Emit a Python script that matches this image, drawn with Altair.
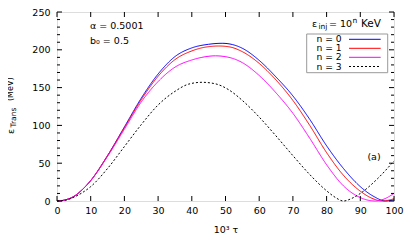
import altair as alt
import pandas as pd

# ---------------- data ----------------
series = ["n = 0", "n = 1", "n = 2", "n = 3"]
colors = ["#0000ff", "#ff0000", "#ff00ff", "#000000"]
dashes = [[1, 0], [1, 0], [1, 0], [2, 2]]

tau_n0 = [0, 2.5, 5, 7.5, 10, 15, 20, 25, 30, 35, 40, 45, 49, 52, 55, 60, 65, 70, 75, 80, 85, 90, 94, 97.5, 100]
E_n0 = [0, 1.5, 6, 15, 27, 60, 98, 136, 168, 191, 202.5, 207.3, 208.6, 207, 202, 186, 164, 139, 108, 73, 43, 19, 6, 0, 1.5]

tau_n1 = [0, 2.5, 5, 7.5, 10, 15, 20, 25, 30, 35, 40, 44, 48, 51, 55, 60, 65, 70, 75, 80, 85, 90, 93.5, 96.5, 100]
E_n1 = [0, 1.5, 6, 15, 27, 60, 97, 134, 165, 187, 198.5, 203.5, 205, 204, 197.5, 182, 160, 133, 100, 64, 34, 13, 3.5, 0, 3]

tau_n2 = [0, 2.5, 5, 7.5, 10, 15, 20, 25, 30, 35, 40, 43, 47, 51, 55, 60, 65, 70, 75, 80, 85, 90, 94.5, 97, 100]
E_n2 = [0, 1.5, 6, 15, 27, 59, 95, 131, 158, 177, 186.5, 190, 192, 190, 183, 166, 143, 116, 83, 48, 20, 4.5, 0, 2.5, 10]

tau_n3 = [0, 2.5, 5, 7.5, 10, 15, 20, 25, 30, 35, 39, 43, 47, 51, 55, 60, 65, 70, 75, 80, 82.5, 85, 87.5, 90, 95, 100]
E_n3 = [0, 1, 5, 11, 19, 43, 72, 101, 127, 145, 154.5, 157, 155, 147, 133, 111, 86, 60, 35, 13.5, 5, 0, 3.5, 10, 29, 53]

x_ticks = [0, 10, 20, 30, 40, 50, 60, 70, 80, 90, 100]
y_ticks = [0, 50, 100, 150, 200, 250]
y_minor = [10, 20, 30, 40, 60, 70, 80, 90, 110, 120, 130, 140,
           160, 170, 180, 190, 210, 220, 230, 240]

# ---------------- layout ----------------
W, H = 337, 189
FONT = "DejaVu Sans"
FS = 9.5

taus = [tau_n0, tau_n1, tau_n2, tau_n3]
Es = [E_n0, E_n1, E_n2, E_n3]
rows = []
for s, t, e in zip(series, taus, Es):
    for a, b in zip(t, e):
        rows.append({"tau": a, "E": b, "series": s})
df = pd.DataFrame(rows)

xscale = alt.Scale(domain=[0, 100], nice=False, zero=False)
yscale = alt.Scale(domain=[0, 250], nice=False, zero=False)

xaxis = alt.Axis(values=x_ticks, ticks=False, domain=False, grid=False,
                 labelOverlap=False, labelFlush=False,
                 labelFont=FONT, labelFontSize=FS, labelColor="black",
                 labelPadding=4, title="10³ τ", titleFont=FONT,
                 titleFontSize=FS, titleFontWeight="normal",
                 titleColor="black", titlePadding=10)
yaxis = alt.Axis(values=y_ticks, ticks=False, domain=False, grid=False,
                 labelOverlap=False, labelFlush=False,
                 labelFont=FONT, labelFontSize=FS, labelColor="black",
                 labelPadding=7, title=None)

lines = alt.Chart(df).mark_line(strokeWidth=1, interpolate="monotone").encode(
    x=alt.X("tau:Q", scale=xscale, axis=xaxis),
    y=alt.Y("E:Q", scale=yscale, axis=yaxis),
    color=alt.Color("series:N", scale=alt.Scale(domain=series, range=colors), legend=None),
    strokeDash=alt.StrokeDash("series:N", scale=alt.Scale(domain=series, range=dashes), legend=None),
)

xt = pd.DataFrame({"t": x_ticks})
yt = pd.DataFrame({"t": y_ticks})
ym = pd.DataFrame({"t": y_minor})

def xtick(y1, y2):
    return alt.Chart(xt).mark_rule(color="black", strokeWidth=1).encode(
        x=alt.X("t:Q", scale=xscale, axis=xaxis), y=alt.value(y1), y2=alt.value(y2))

def ytick(d, x1, x2):
    return alt.Chart(d).mark_rule(color="black", strokeWidth=1).encode(
        y=alt.Y("t:Q", scale=yscale, axis=yaxis), x=alt.value(x1), x2=alt.value(x2))

ticks = [
    xtick(H, H - 5), xtick(0, 5),
    ytick(yt, 0, 5), ytick(yt, W, W - 5),
    ytick(ym, 0, 3), ytick(ym, W, W - 3),
]

def txt(s, x, y, size=FS, align="left", baseline="middle", angle=0):
    kw = dict(font=FONT, fontSize=size, color="black", align=align, baseline=baseline)
    if angle:
        kw["angle"] = angle
    return alt.Chart(pd.DataFrame({"s": [s]})).mark_text(**kw).encode(
        text="s:N", x=alt.value(x), y=alt.value(y))

texts = [
    txt("α = 0.5001", 33, 14),
    txt("b₀ = 0.5", 33, 28.5),
    txt("(a)", 317, 144.5, align="center"),
    # legend title  eps_inj = 10^n KeV
    txt("ε", 255, 14.5, baseline="alphabetic"),
    txt("inj", 261.5, 17, size=7.5, baseline="alphabetic"),
    txt("= 10", 272, 14.5, baseline="alphabetic"),
    txt("n", 295.5, 10.5, size=7.5, baseline="alphabetic"),
    txt("KeV", 304, 14.5, size=10.5, baseline="alphabetic"),
    # y axis title  eps_Trans (MeV)
    txt("ε", -46, 122, angle=270),
    txt("Trans", -43.5, 115.5, size=7.5, angle=270),
    txt("(MeV)", -46.5, 89, size=8, angle=270),
]

legend_box = alt.Chart(pd.DataFrame({"s": ["box"]})).mark_rect(
    fill="white", stroke="#999999", strokeWidth=1).encode(
    x=alt.value(249.7), x2=alt.value(330.7), y=alt.value(22), y2=alt.value(60.7))

legend_layers = [legend_box]
row_y = [27.3, 36.3, 45.3, 54.5]
for s, c, d, ry in zip(series, colors, dashes, row_y):
    legend_layers.append(txt(s, 284.7, ry, size=9.2, align="right"))
    legend_layers.append(
        alt.Chart(pd.DataFrame({"s": [s]})).mark_rule(color=c, strokeWidth=1, strokeDash=d).encode(
            x=alt.value(292), x2=alt.value(323.7), y=alt.value(ry)))

chart = alt.layer(lines, *ticks, *legend_layers, *texts).properties(
    width=W, height=H,
    padding={"left": 49, "top": 4, "right": 10, "bottom": 38},
    autosize=alt.AutoSizeParams(type="none"),
).configure_view(stroke="black", strokeWidth=1).configure(background="white")

chart.save("out.html", embed_options={"renderer": "svg", "actions": False})
